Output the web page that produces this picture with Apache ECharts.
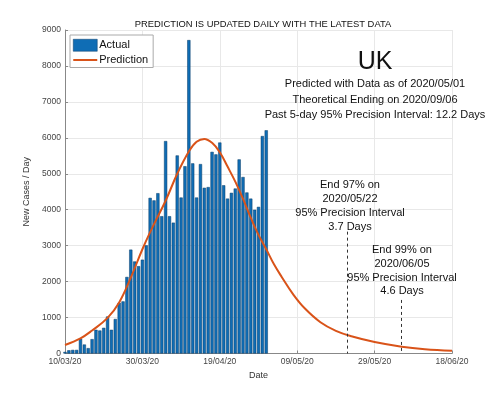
<!DOCTYPE html>
<html>
<head>
<meta charset="utf-8">
<title>UK prediction</title>
<script src="https://cdn.jsdelivr.net/npm/echarts@6/dist/echarts.min.js"></script>
<style>
  html, body { margin: 0; padding: 0; background: #fff; }
  #main { width: 500px; height: 397px; }
</style>
</head>
<body>
<div id="main"></div>
<script>
  // x axis is days since 10/03/20
  var xTickLabels = ['10/03/20', '30/03/20', '19/04/20', '09/05/20', '29/05/20', '18/06/20'];

  // daily new cases, one bar per day from 10/03/20 to 01/05/20
  var actual = [45, 90, 100, 100, 410, 250, 150, 400, 660, 640,
                715, 1030, 660, 960, 1410, 1450, 2130, 2890, 2560, 2430,
                2610, 3010, 4330, 4260, 4460, 3820, 5910, 3820, 3640, 5510,
                4340, 5210, 8720, 5290, 4340, 5270, 4610, 4630, 5610, 5540,
                5870, 4680, 4310, 4470, 4590, 5400, 4910, 4480, 4310, 4000,
                4080, 6050, 6210];

  // prediction curve
  var predDays   = [0, 4, 7, 11, 14, 17, 20, 23, 26, 29, 32, 34, 36, 38, 40, 42, 44, 46, 48, 50,
                    52, 54, 56, 59, 62, 66, 70, 74, 80, 87, 93, 100];
  var predValues = [236, 420, 640, 990, 1420, 2110, 2900, 3600, 4250, 5000, 5620, 5890, 5970, 5860, 5600, 5200, 4780, 4300, 3780, 3300,
                    2900, 2480, 2130, 1640, 1250, 870, 630, 480, 320, 190, 120, 75];

  // dashed markers for 97% / 99% end dates
  var endDays = [73, 87];
  var endTops = [3390, 1490];

  var chartTitle = 'PREDICTION IS UPDATED DAILY WITH THE LATEST DATA';
  var infoLines = ['Predicted with Data as of 2020/05/01', 'Theoretical Ending on 2020/09/06', 'Past 5-day 95% Precision Interval: 12.2 Days'];
  var end97Lines = ['End 97% on', '2020/05/22', '95% Precision Interval', '3.7 Days'];
  var end99Lines = ['End 99% on', '2020/06/05', '95% Precision Interval', '4.6 Days'];

  var FONT = '"Liberation Sans", Arial, sans-serif';

  function textEl(str, x, y, size) {
    return {
      type: 'text', x: x, y: y, z: 100, silent: true,
      style: { text: str, fill: '#111', font: size + 'px ' + FONT, align: 'center', verticalAlign: 'middle' }
    };
  }

  var graphics = [textEl('UK', 375, 62, 25)];
  var infoY = [84, 100, 115];
  infoLines.forEach(function (t, i) { graphics.push(textEl(t, 375, infoY[i], 11)); });
  var a1Y = [185, 199, 213, 227];
  end97Lines.forEach(function (t, i) { graphics.push(textEl(t, 350, a1Y[i], 11)); });
  var a2Y = [250, 264, 278, 291];
  end99Lines.forEach(function (t, i) { graphics.push(textEl(t, 402, a2Y[i], 11)); });

  var myChart = echarts.init(document.getElementById('main'));
  myChart.setOption({
    animation: false,
    textStyle: { fontFamily: FONT },
    title: {
      text: chartTitle,
      left: 258, top: 15, textAlign: 'center',
      textStyle: { fontSize: 9.4, fontWeight: 'normal', color: '#111' }
    },
    legend: {
      orient: 'vertical',
      left: 70, top: 35,
      padding: [4, 5, 2, 3],
      itemGap: 3,
      itemWidth: 24, itemHeight: 12,
      borderColor: '#aaa', borderWidth: 1, backgroundColor: '#fff',
      textStyle: { fontSize: 11, color: '#111', padding: [0, 0, 0, -3] },
      data: [
        { name: 'Actual', icon: 'rect', itemStyle: { borderWidth: 0.5, borderColor: '#0b3c66' } },
        { name: 'Prediction', icon: 'path://M0,0H24V2H0Z' }
      ]
    },
    grid: { left: 65, right: 48, top: 30, bottom: 43.5 },
    xAxis: {
      type: 'value',
      min: 0, max: 100, interval: 20,
      name: 'Date', nameLocation: 'middle', nameGap: 15,
      nameTextStyle: { fontSize: 9, color: '#333' },
      axisLine: { lineStyle: { color: '#888' } },
      axisTick: { inside: true, length: 3, lineStyle: { color: '#888' } },
      axisLabel: {
        fontSize: 8.5, color: '#444', margin: 4,
        formatter: function (v) { return xTickLabels[v / 20]; }
      },
      splitLine: { show: true, lineStyle: { color: '#e8e8e8' } }
    },
    yAxis: {
      type: 'value',
      min: 0, max: 9000, interval: 1000,
      name: 'New Cases / Day', nameLocation: 'middle', nameGap: 25,
      nameTextStyle: { fontSize: 9, color: '#333' },
      axisLine: { show: true, lineStyle: { color: '#888' } },
      axisTick: { show: true, inside: true, length: 3, lineStyle: { color: '#888' } },
      axisLabel: {
        fontSize: 8.5, color: '#444', margin: 4,
        formatter: function (v) { return String(v); }
      },
      splitLine: { show: true, lineStyle: { color: '#e8e8e8' } }
    },
    graphic: graphics,
    series: [
      {
        name: 'Actual',
        type: 'bar',
        clip: true,
        barWidth: 3.2,
        itemStyle: { color: '#0f6db5', borderColor: '#0b3c66', borderWidth: 0.5 },
        data: actual.map(function (v, i) { return [i, v]; })
      },
      {
        name: 'Prediction',
        type: 'line',
        symbol: 'none',
        smooth: 0.4,
        lineStyle: { color: '#d95319', width: 2 },
        itemStyle: { color: '#d95319' },
        data: predDays.map(function (d, i) { return [d, predValues[i]]; }),
        markLine: {
          silent: true,
          symbol: 'none',
          label: { show: false },
          lineStyle: { color: '#333', width: 1, type: [3, 3] },
          data: endDays.map(function (d, i) {
            return [{ coord: [d, endTops[i]] }, { coord: [d, 0] }];
          })
        }
      }
    ]
  });
</script>
</body>
</html>
